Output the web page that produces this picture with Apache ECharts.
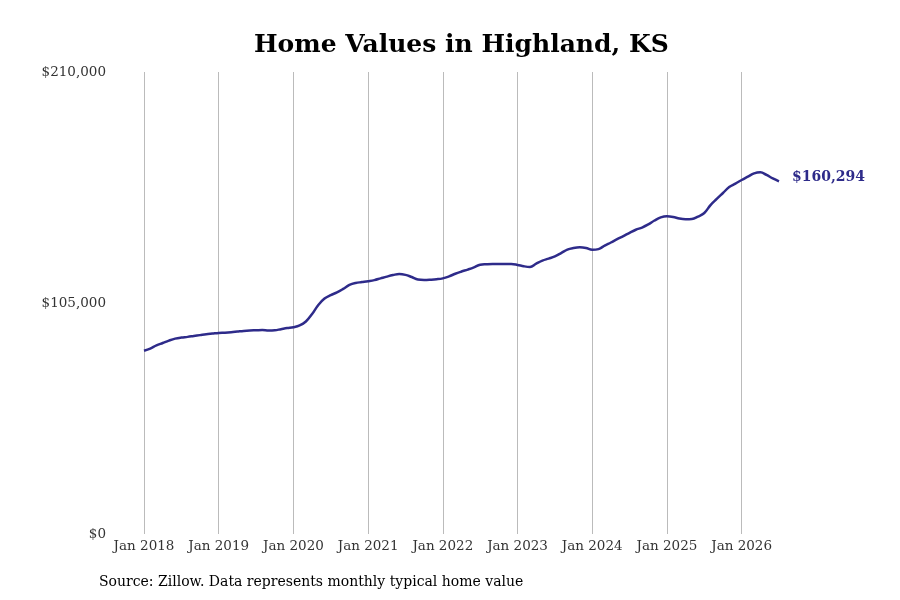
<!DOCTYPE html>
<html>
<head>
<meta charset="utf-8">
<script src="https://cdn.jsdelivr.net/npm/echarts@6/dist/echarts.min.js"></script>
<style>
  html, body { margin: 0; padding: 0; background: #fff; }
  #chart { width: 900px; height: 600px; }
</style>
</head>
<body>
<div id="chart"></div>
<script>
// monthly typical home value, Jan 2018 .. Jul 2026
const startYear = 2018;
const values = [
  83300, 84300, 85700, 86800, 87900, 88800, 89300, 89600, 90000, 90400, 90800, 91100,
  91400, 91500, 91700, 92000, 92300, 92500, 92600, 92700, 92500, 92600, 93100, 93600,
  94000, 94800, 96600, 100000, 104100, 107000, 108600, 109800, 111400, 113200, 114100, 114500,
  114900, 115400, 116200, 117000, 117700, 118200, 117800, 116800, 115700, 115500, 115600, 115800,
  116200, 117100, 118300, 119300, 120200, 121200, 122400, 122600, 122700, 122700, 122700, 122700,
  122300, 121700, 121400, 122900, 124300, 125200, 126200, 127700, 129300, 130000, 130300, 130000,
  129200, 129500, 131100, 132500, 134000, 135400, 136900, 138300, 139300, 140700, 142500, 143900,
  144400, 144100, 143400, 143100, 143200, 144300, 145900, 149500, 152300, 155000, 157700, 159300,
  160900, 162400, 163900, 164400, 163200, 161600, 160294
];
const monthNames = ["Jan", "Feb", "Mar", "Apr", "May", "Jun", "Jul", "Aug", "Sep", "Oct", "Nov", "Dec"];
const categories = values.map((v, i) => monthNames[i % 12] + " " + (startYear + Math.floor(i / 12)));
const yTicks = [0, 105000, 210000];

const lineColor = "#2e2b8a";
const font = "DejaVu Serif";

var myChart = echarts.init(document.getElementById("chart"));
var option = {
  backgroundColor: "#ffffff",
  animation: false,
  title: {
    text: "Home Values in Highland, KS",
    left: 249,
    top: 28,
    textStyle: { fontFamily: font, fontSize: 25, fontWeight: "bold", color: "#000" },
  },
  graphic: [
    {
      type: "text",
      left: 99,
      top: 575,
      style: {
        text: "Source: Zillow. Data represents monthly typical home value",
        fontFamily: font,
        fontSize: 14,
        fill: "#000",
      },
    },
  ],
  grid: { left: 144, right: 121, top: 72, bottom: 66, containLabel: false },
  xAxis: {
    type: "category",
    boundaryGap: false,
    data: categories,
    axisLine: { show: false },
    axisTick: { show: false },
    axisLabel: {
      interval: (i) => i % 12 === 0,
      fontFamily: font,
      fontSize: 13.5,
      color: "#333",
      margin: 5,
    },
    splitLine: {
      show: true,
      interval: (i) => i % 12 === 0,
      lineStyle: { color: "#bbbbbb", width: 1 },
    },
  },
  yAxis: {
    type: "value",
    min: yTicks[0],
    max: yTicks[yTicks.length - 1],
    interval: yTicks[1] - yTicks[0],
    axisLine: { show: false },
    axisTick: { show: false },
    splitLine: { show: false },
    axisLabel: {
      fontFamily: font,
      fontSize: 13.5,
      color: "#333",
      margin: 38,
      padding: [4, 0, 0, 0],
      formatter: (v) => "$" + v.toLocaleString("en-US"),
    },
  },
  series: [
    {
      type: "line",
      data: values,
      smooth: 0.4,
      symbol: "none",
      lineStyle: { color: lineColor, width: 2.5 },
      endLabel: {
        show: true,
        formatter: (p) => "$" + p.value.toLocaleString("en-US"),
        fontFamily: font,
        fontSize: 14,
        fontWeight: "bold",
        color: lineColor,
        offset: [5, -4],
      },
    },
  ],
};
myChart.setOption(option);
</script>
</body>
</html>
